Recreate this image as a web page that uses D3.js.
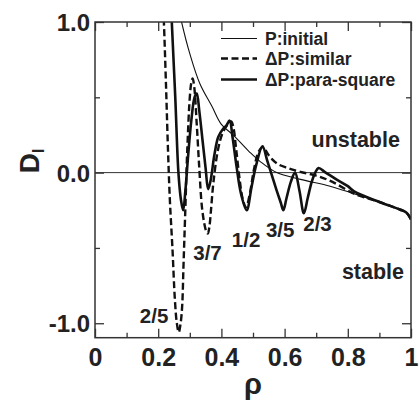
<!DOCTYPE html>
<html>
<head>
<meta charset="utf-8">
<script src="https://cdn.jsdelivr.net/npm/d3@7"></script>
<style>
  body { margin: 0; background: #fff; }
  svg text { font-family: "Liberation Sans", Arial, sans-serif; font-weight: bold; fill: #222; }
</style>
</head>
<body>
<svg class="canvas"></svg>
<script>
const width = 419;
const height = 403;

// P: initial (thin line)
const rhoInitial = [0.262, 0.274, 0.30, 0.332, 0.37, 0.40, 0.437, 0.49, 0.522, 0.575, 0.65, 0.744, 0.82, 0.9, 0.965, 0.985, 1.0];
const dInitial = [1.12, 1.0, 0.79, 0.59, 0.44, 0.32, 0.25, 0.135, 0.075, 0.0, -0.045, -0.09, -0.14, -0.195, -0.245, -0.265, -0.31];

// ΔP: similar (dashed)
const rhoSimilar = [0.212, 0.218, 0.225, 0.231, 0.237, 0.245, 0.253, 0.259, 0.265, 0.271, 0.276, 0.28, 0.285, 0.292, 0.30, 0.305, 0.309, 0.314, 0.322, 0.33, 0.338, 0.346, 0.352, 0.357, 0.362, 0.367, 0.375, 0.39, 0.405, 0.42, 0.431, 0.438, 0.447, 0.458, 0.468, 0.478, 0.49, 0.503, 0.518, 0.532, 0.545, 0.56, 0.58, 0.61, 0.65, 0.70, 0.75, 0.82, 0.9, 0.965, 0.985, 1.0];
const dSimilar = [1.3, 1.0, 0.56, 0.15, -0.185, -0.5, -0.85, -1.0, -1.06, -1.0, -0.88, -0.62, -0.3, 0.15, 0.5, 0.6, 0.625, 0.57, 0.32, 0.03, -0.22, -0.34, -0.39, -0.405, -0.36, -0.25, -0.06, 0.16, 0.27, 0.32, 0.34, 0.3, 0.15, -0.05, -0.18, -0.23, -0.14, 0.02, 0.14, 0.17, 0.13, 0.09, 0.055, 0.03, 0.005, -0.02, -0.06, -0.14, -0.195, -0.245, -0.265, -0.31];

// ΔP: para-square (thick)
const rhoSquare = [0.236, 0.243, 0.254, 0.264, 0.272, 0.279, 0.286, 0.295, 0.305, 0.315, 0.322, 0.33, 0.34, 0.35, 0.358, 0.366, 0.378, 0.39, 0.405, 0.415, 0.426, 0.435, 0.448, 0.462, 0.48, 0.495, 0.51, 0.53, 0.545, 0.56, 0.575, 0.588, 0.596, 0.606, 0.62, 0.633, 0.647, 0.661, 0.673, 0.686, 0.697, 0.707, 0.73, 0.76, 0.8, 0.82, 0.9, 0.965, 0.985, 1.0];
const dSquare = [1.35, 1.0, 0.5, 0.0, -0.18, -0.25, -0.12, 0.12, 0.35, 0.5, 0.525, 0.41, 0.22, 0.03, -0.11, -0.05, 0.12, 0.237, 0.29, 0.31, 0.345, 0.24, 0.04, -0.14, -0.25, -0.1, 0.05, 0.175, 0.08, -0.02, -0.12, -0.2, -0.25, -0.17, -0.06, 0.0, -0.12, -0.27, -0.17, -0.06, 0.0, 0.03, 0.0, -0.04, -0.09, -0.125, -0.195, -0.245, -0.265, -0.31];

const xMajor = [0, 0.2, 0.4, 0.6, 0.8, 1];
const xTickLabels = ["0", "0.2", "0.4", "0.6", "0.8", "1"];
const xMinor = [0.1, 0.3, 0.5, 0.7, 0.9];
const yMajor = [-1, 0, 1];
const yTickLabels = ["-1.0", "0.0", "1.0"];
const yMinor = [-0.5, 0.5];

const legendNames = ["P:initial", "ΔP:similar", "ΔP:para-square"];

// resonance labels, anchored in data units
const fracLabels = ["2/5", "3/7", "1/2", "3/5", "2/3"];
const fracRho = [0.142, 0.311, 0.433, 0.541, 0.659];
const fracD = [-1.0, -0.583, -0.496, -0.43, -0.39];

const svg = d3.select(".canvas")
	.attr("width", width)
	.attr("height", height);

const x = d3.scaleLinear().domain([0, 1]).range([95, 411]);
const y = d3.scaleLinear().domain([-1.096, 1]).range([337.7, 22]);

svg.append("defs").append("clipPath")
	.attr("id", "plot-clip")
	.append("rect")
	.attr("x", x(0)).attr("y", y(1))
	.attr("width", x(1) - x(0)).attr("height", y(-1.096) - y(1));

// zero line
svg.append("line")
	.attr("x1", x(0)).attr("x2", x(1))
	.attr("y1", y(0)).attr("y2", y(0))
	.attr("stroke", "#333").attr("stroke-width", 1);

// ticks (inward, on all four sides)
function tickAxis(axis, ticks, size, labels, transform) {
	const g = svg.append("g")
		.attr("transform", transform)
		.call(axis.tickValues(ticks).tickSizeInner(-size).tickSizeOuter(0)
			.tickPadding(size + 8)
			.tickFormat((d, i) => labels ? labels[i] : ""));
	g.select(".domain").remove();
	g.selectAll(".tick line").attr("stroke", "#333").attr("stroke-width", 1.3);
	return g;
}

const gx = tickAxis(d3.axisBottom(x), xMajor, 9, xTickLabels, `translate(0,${y(-1.096)})`);
gx.selectAll("text").attr("font-size", 25).attr("dy", "0.95em").attr("y", 5);
tickAxis(d3.axisBottom(x), xMinor, 5, null, `translate(0,${y(-1.096)})`);
tickAxis(d3.axisTop(x), xMajor, 9, null, `translate(0,${y(1)})`);
tickAxis(d3.axisTop(x), xMinor, 5, null, `translate(0,${y(1)})`);

const gy = tickAxis(d3.axisLeft(y), yMajor, 9, yTickLabels, `translate(${x(0)},0)`);
gy.selectAll("text").attr("font-size", 24).attr("x", -5).attr("dy", "0.36em");
tickAxis(d3.axisLeft(y), yMinor, 5, null, `translate(${x(0)},0)`);
tickAxis(d3.axisRight(y), yMajor, 9, null, `translate(${x(1)},0)`);
tickAxis(d3.axisRight(y), yMinor, 5, null, `translate(${x(1)},0)`);

svg.selectAll(".tick text").attr("fill", "#222").style("font-family", '"Liberation Sans", Arial, sans-serif').style("font-weight", "bold");

// curves
const line = d3.line()
	.x(d => x(d[0]))
	.y(d => y(d[1]))
	.curve(d3.curveCatmullRom.alpha(0.5));

const series = [
	{ rho: rhoInitial, d: dInitial, width: 1.1, dash: null },
	{ rho: rhoSimilar, d: dSimilar, width: 2.4, dash: "7,3.5" },
	{ rho: rhoSquare, d: dSquare, width: 2.6, dash: null }
];

const plot = svg.append("g").attr("clip-path", "url(#plot-clip)");
plot.selectAll(".curve")
	.data(series)
	.join("path")
	.attr("class", "curve")
	.attr("d", s => line(s.rho.map((r, i) => [r, s.d[i]])))
	.attr("fill", "none")
	.attr("stroke", "#111")
	.attr("stroke-width", s => s.width)
	.attr("stroke-dasharray", s => s.dash)
	.attr("stroke-linejoin", "round");

// frame
svg.append("rect")
	.attr("x", x(0)).attr("y", y(1))
	.attr("width", x(1) - x(0)).attr("height", y(-1.096) - y(1))
	.attr("fill", "none").attr("stroke", "#333").attr("stroke-width", 1.5);

// legend
const legend = svg.append("g");
const legendY = [38.5, 58.5, 79.5];
legend.selectAll("line")
	.data(series)
	.join("line")
	.attr("x1", 221).attr("x2", 257)
	.attr("y1", (s, i) => legendY[i]).attr("y2", (s, i) => legendY[i])
	.attr("stroke", "#111")
	.attr("stroke-width", s => s.width)
	.attr("stroke-dasharray", s => s.dash);
legend.selectAll("text")
	.data(legendNames)
	.join("text")
	.attr("x", 265)
	.attr("y", (d, i) => legendY[i] + 6.3)
	.attr("font-size", 17.5)
	.text(d => d);

// region labels
svg.append("text")
	.attr("x", x(0.965)).attr("y", y(0.17))
	.attr("text-anchor", "end").attr("font-size", 21.5)
	.text("unstable");
svg.append("text")
	.attr("x", x(0.978)).attr("y", y(-0.709))
	.attr("text-anchor", "end").attr("font-size", 21.5)
	.text("stable");

// resonance labels
svg.selectAll(".frac")
	.data(fracLabels)
	.join("text")
	.attr("class", "frac")
	.attr("x", (d, i) => x(fracRho[i]))
	.attr("y", (d, i) => y(fracD[i]))
	.attr("font-size", 20.5)
	.text(d => d);

// axis titles
const yTitle = svg.append("text")
	.attr("transform", "translate(39,161) rotate(-90)")
	.attr("text-anchor", "middle")
	.attr("font-size", 28);
yTitle.append("tspan").text("D");
yTitle.append("tspan").attr("font-size", 16).attr("dy", 5).text("I");

svg.append("text")
	.attr("x", (x(0) + x(1)) / 2)
	.attr("y", 394)
	.attr("text-anchor", "middle")
	.attr("font-size", 29)
	.text("ρ");
</script>
</body>
</html>
